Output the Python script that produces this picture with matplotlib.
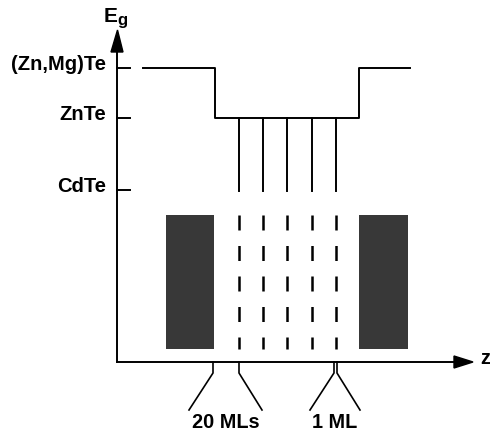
import numpy as np
import matplotlib
matplotlib.use("Agg")
import matplotlib.pyplot as plt
from matplotlib.patches import Rectangle, Polygon

plt.rcParams['font.family'] = ['Liberation Sans', 'DejaVu Sans']

# energy levels (drawn in image units, y grows downward)
level_labels = ['(Zn,Mg)Te', 'ZnTe', 'CdTe']
level_y = [68, 118, 190]

# band-gap profile along z
profile_z = [143, 215, 215, 359, 359, 410]
profile_e = [68, 68, 118, 118, 68, 68]

# CdTe monolayers inside the ZnTe well
layer_z = [239, 263, 287, 312, 336]
layer_top, layer_bottom = 118, 191

# sketch of the sample below: barriers and dashed monolayers
barrier_left = [166, 214]
barrier_right = [359, 408]
sample_top, sample_bottom = 215, 349

# labels under the z axis
mark_labels = ['20 MLs', '1 ML']
mark_ticks = [[213, 239], [334, 337]]
mark_feet = [[189, 262], [310, 360]]
mark_text_x = [226, 335]

axis_x0, axis_y0 = 117, 362

fig = plt.figure(figsize=(4.9, 4.34), dpi=100)
ax = fig.add_axes([0, 0, 1, 1])
ax.set_xlim(0, 490)
ax.set_ylim(434, 0)
ax.axis('off')

lw = 1.4
k = 'black'

# axes with arrow heads
ax.plot([axis_x0, axis_x0], [axis_y0, 48], color=k, lw=lw)
ax.plot([axis_x0, 458], [axis_y0, axis_y0], color=k, lw=lw)
ax.add_patch(Polygon([[axis_x0 - 6, 52], [axis_x0 + 6, 52], [axis_x0 + 0.5, 30]],
                     closed=True, color=k))
ax.add_patch(Polygon([[454, axis_y0 - 6], [454, axis_y0 + 6], [473, axis_y0]],
                     closed=True, color=k))
ax.text(104, 16, 'E', fontsize=15, fontweight='bold', va='center', ha='left')
ax.text(117, 21, 'g', fontsize=12, fontweight='bold', va='center', ha='left')
ax.text(480, 358, 'z', fontsize=14.5, fontweight='bold', va='center', ha='left')

# level ticks and labels
for name, y in zip(level_labels, level_y):
    ax.plot([axis_x0, 130], [y, y], color=k, lw=lw)
    ax.text(106, y - 3, name, fontsize=14.5, fontweight='bold', ha='right', va='center')

# profile
ax.plot(profile_z, profile_e, color=k, lw=lw)
for z in layer_z:
    ax.plot([z, z], [layer_top, layer_bottom], color=k, lw=lw)

# sample sketch
for x0, x1 in [barrier_left, barrier_right]:
    ax.add_patch(Rectangle((x0, sample_top), x1 - x0, sample_bottom - sample_top,
                           facecolor='#383838', edgecolor='none'))
for z in layer_z:
    ax.plot([z, z], [sample_top, sample_bottom], color=k, lw=1.8,
            dashes=(6, 6.2))

# thickness markers
for name, ticks, feet, tx in zip(mark_labels, mark_ticks, mark_feet, mark_text_x):
    for t, f in zip(ticks, feet):
        ax.plot([t, t, f], [axis_y0, 373, 410], color=k, lw=1.2)
    ax.text(tx, 423, name, fontsize=14.3, fontweight='bold', ha='center', va='center')

fig.savefig('out.png', dpi=100)
